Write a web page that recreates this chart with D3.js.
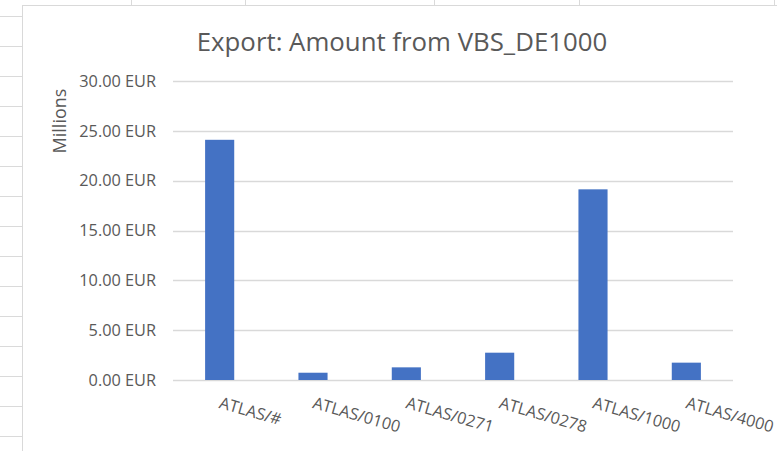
<!DOCTYPE html>
<html>
<head>
<meta charset="utf-8">
<script src="https://cdn.jsdelivr.net/npm/d3@7"></script>
<style>
  html, body { margin: 0; padding: 0; background: #fff; }
  svg { display: block; }
  text { font-family: "Open Sans", "Noto Sans", sans-serif; }
</style>
</head>
<body>
<svg id="sheet" width="777" height="451"></svg>
<script>
// Export amounts per ATLAS account (in millions of EUR)
const categories = ["ATLAS/#", "ATLAS/0100", "ATLAS/0271", "ATLAS/0278", "ATLAS/1000", "ATLAS/4000"];
const amounts = [24.1, 0.73, 1.27, 2.74, 19.13, 1.74];
const yTicks = [0, 5, 10, 15, 20, 25, 30];
const titleText = "Export: Amount from VBS_DE1000";
const yAxisTitle = "Millions";

const svg = d3.select("#sheet");
const W = 777, H = 451;

// Worksheet cell grid behind the chart object
const sheetRows = d3.range(16, H, 30);
const sheetCols = [131, 245, 434, 579, 774];
const chartLeft = 22, chartTop = 5;
const gridColor = "#dadada";

svg.append("g").selectAll("line.row").data(sheetRows).join("line")
  .attr("x1", 0).attr("x2", chartLeft)
  .attr("y1", d => d + 0.5).attr("y2", d => d + 0.5)
  .attr("stroke", gridColor).attr("stroke-width", 1);
svg.append("g").selectAll("line.col").data(sheetCols).join("line")
  .attr("x1", d => d + 0.5).attr("x2", d => d + 0.5)
  .attr("y1", 0).attr("y2", chartTop)
  .attr("stroke", gridColor).attr("stroke-width", 1);

// Chart object frame
svg.append("rect")
  .attr("x", chartLeft + 0.5).attr("y", chartTop + 0.5)
  .attr("width", W + 10).attr("height", H + 10)
  .attr("fill", "#fff").attr("stroke", "#d9d9d9").attr("stroke-width", 1);

// Plot area
const plot = { left: 173, right: 733, top: 81, bottom: 380 };

const x = d3.scaleBand()
  .domain(categories)
  .range([plot.left, plot.right])
  .paddingInner(0.688)
  .paddingOuter(0.344);

const y = d3.scaleLinear()
  .domain([0, 30])
  .range([plot.bottom, plot.top]);

const fmt = v => d3.format(".2f")(v) + " EUR";

// Horizontal gridlines
svg.append("g").selectAll("line").data(yTicks).join("line")
  .attr("x1", plot.left).attr("x2", plot.right)
  .attr("y1", d => Math.round(y(d)) + 0.5).attr("y2", d => Math.round(y(d)) + 0.5)
  .attr("stroke", "#d9d9d9").attr("stroke-width", 1.3);

// Y axis labels
const yAxis = d3.axisLeft(y).tickValues(yTicks).tickFormat(fmt).tickSize(0).tickPadding(17);
const yG = svg.append("g").attr("transform", `translate(${plot.left},0)`).call(yAxis);
yG.select(".domain").remove();
yG.selectAll("text")
  .attr("fill", "#595959")
  .style("font-size", "16.3px")
  .style("font-family", "'Open Sans', sans-serif");

// Bars
svg.append("g").selectAll("rect").data(amounts).join("rect")
  .attr("x", (d, i) => x(categories[i]))
  .attr("width", x.bandwidth())
  .attr("y", d => y(d))
  .attr("height", d => y(0) - y(d))
  .attr("fill", "#4472C4");

// Category labels, slanted
const xG = svg.append("g");
xG.selectAll("text").data(categories).join("text")
  .attr("transform", d => `translate(${x(d) + x.bandwidth() / 2 + 2},${plot.bottom + 16}) rotate(16)`)
  .attr("text-anchor", "start")
  .attr("dy", "0.75em")
  .attr("fill", "#595959")
  .style("font-size", "16.3px")
  .text(d => d);

// Chart title
svg.append("text")
  .attr("x", 402).attr("y", 51)
  .attr("text-anchor", "middle")
  .attr("fill", "#595959")
  .style("font-size", "25.8px")
  .text(titleText);

// Value axis title
svg.append("text")
  .attr("transform", "translate(66,121) rotate(-90)")
  .attr("text-anchor", "middle")
  .attr("fill", "#595959")
  .style("font-size", "18px")
  .text(yAxisTitle);
</script>
</body>
</html>
